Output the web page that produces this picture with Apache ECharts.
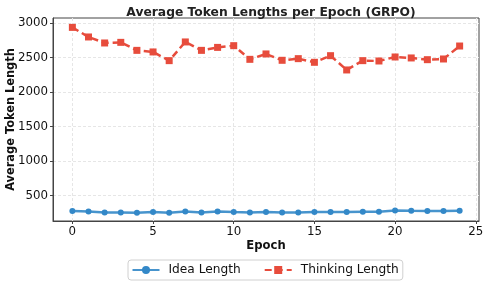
<!DOCTYPE html>
<html>
<head>
<meta charset="utf-8">
<script src="https://cdn.jsdelivr.net/npm/echarts@6/dist/echarts.min.js"></script>
<style>
html,body{margin:0;padding:0;background:#fff;}
#c{width:489px;height:288px;}
</style>
</head>
<body>
<div id="c"></div>
<script>
const epochs = [0,1,2,3,4,5,6,7,8,9,10,11,12,13,14,15,16,17,18,19,20,21,22,23,24];
const ideaLength = [274,268,254,254,249,259,249,268,254,268,259,254,259,254,254,259,259,259,264,264,283,278,274,274,278];
const thinkingLength = [2936,2797,2710,2719,2603,2580,2454,2725,2603,2646,2671,2473,2551,2459,2483,2430,2526,2319,2454,2449,2507,2493,2468,2478,2666];
const xTicks = [0,5,10,15,20,25];
const yTicks = [500,1000,1500,2000,2500,3000];

const FONT = 'DejaVu Sans';
const chart = echarts.init(document.getElementById('c'), null, {renderer:'canvas'});
chart.setOption({
  animation:false,
  textStyle:{fontFamily:FONT},
  title:{
    text:'Average Token Lengths per Epoch (GRPO)',
    left:266, top:2, textAlign:'center',
    textStyle:{fontFamily:FONT,fontSize:12.3,fontWeight:'bold',color:'#222'}
  },
  grid:{left:53,right:10,top:18,bottom:67,show:true,borderColor:'#444',borderWidth:1,containLabel:false,outerBoundsMode:'none'},
  legend:{
    left:128, top:260,
    data:['Idea Length','Thinking Length'],
    itemWidth:27, itemHeight:10, itemGap:23,
    borderColor:'#d0d0d0', borderWidth:1, borderRadius:3,
    padding:[4,4,4,3.5],
    textStyle:{fontFamily:FONT,fontSize:12.2,color:'#111',padding:[0,0,0,4]}
  },
  xAxis:{
    type:'value', min:-1.2, max:25.2,
    name:'Epoch', nameLocation:'middle', nameGap:19, nameMoveOverlap:false,
    nameTextStyle:{fontFamily:FONT,fontSize:11.6,fontWeight:'bold',color:'#111'},
    axisLine:{show:true,onZero:false,lineStyle:{color:'#444'}},
    axisTick:{show:true,length:3,lineStyle:{color:'#444'},customValues:xTicks},
    axisLabel:{fontFamily:FONT,fontSize:11.8,color:'#111',margin:5,customValues:xTicks,formatter:v=>String(v)},
    splitLine:{show:true,lineStyle:{color:'#e6e6e6',type:[3,2],width:1}}
  },
  yAxis:{
    type:'value', min:130, max:3072,
    name:'Average Token Length', nameLocation:'middle', nameGap:36, nameMoveOverlap:false,
    nameTextStyle:{fontFamily:FONT,fontSize:11.4,fontWeight:'bold',color:'#111'},
    axisLine:{show:true,onZero:false,lineStyle:{color:'#444'}},
    axisTick:{show:true,length:3,lineStyle:{color:'#444'},customValues:yTicks},
    axisLabel:{fontFamily:FONT,fontSize:11.8,color:'#111',margin:5,customValues:yTicks,formatter:v=>String(v)},
    splitLine:{show:true,lineStyle:{color:'#e6e6e6',type:[3,2],width:1}}
  },
  series:[
    {
      name:'Idea Length', type:'line',
      data:epochs.map((e,i)=>[e,ideaLength[i]]),
      symbol:'circle', symbolSize:6,
      lineStyle:{color:'#3388C8',width:2.5,opacity:0.9},
      itemStyle:{color:'#3388C8'}
    },
    {
      name:'Thinking Length', type:'line',
      data:epochs.map((e,i)=>[e,thinkingLength[i]]),
      symbol:'rect', symbolSize:7,
      lineStyle:{color:'#E74C3C',width:2.5,type:[7,4]},
      itemStyle:{color:'#E74C3C'}
    }
  ]
});
</script>
</body>
</html>
